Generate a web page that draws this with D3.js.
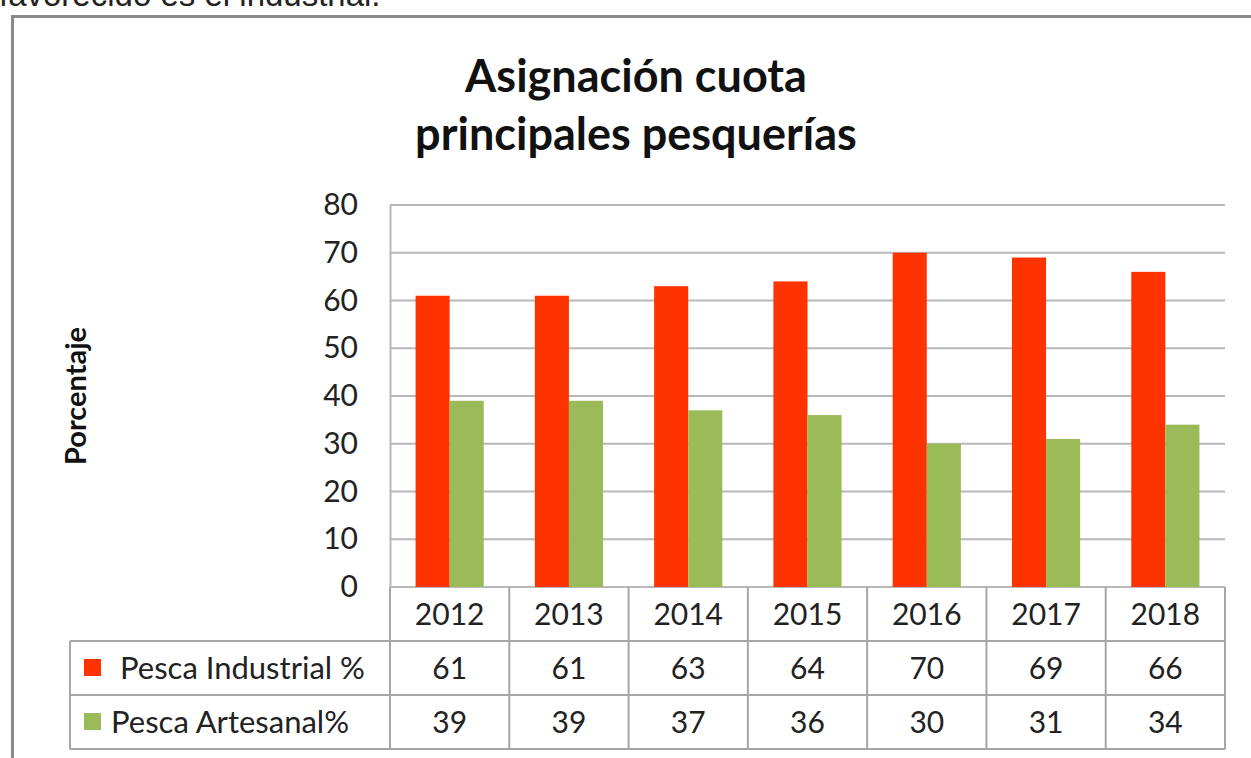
<!DOCTYPE html>
<html>
<head>
<meta charset="utf-8">
<script src="https://cdn.jsdelivr.net/npm/d3@7"></script>
<style>
  body { margin: 0; background: #fff; }
  svg { display: block; }
</style>
</head>
<body>
<div id="chart"></div>
<script>
// data
const years = ["2012", "2013", "2014", "2015", "2016", "2017", "2018"];
const seriesNames = ["Pesca Industrial %", "Pesca Artesanal%"];
const industrial = [61, 61, 63, 64, 70, 69, 66];
const artesanal = [39, 39, 37, 36, 30, 31, 34];
const yTicks = [0, 10, 20, 30, 40, 50, 60, 70, 80];
const colors = ["#ff3300", "#9bbb59"];

const width = 1251;
const height = 758;
const plot = {left: 390, right: 1225, top: 205, bottom: 587};
const rowH = 54;
const font = "Lato, sans-serif";

const svg = d3.select("#chart")
  .append("svg")
  .attr("width", width)
  .attr("height", height);

// clipped sentence from the page above the chart
svg.append("text")
  .attr("x", -1)
  .attr("y", 6)
  .style("font-family", "Liberation Sans, Arial, sans-serif")
  .style("font-size", "33px")
  .attr("fill", "#222")
  .text("favorecido es el industrial.");

// frame of the embedded picture (top and left edges only)
svg.append("path")
  .attr("d", `M12.5,${height} V16.5 H${width}`)
  .attr("fill", "none")
  .attr("stroke", "#8a8a8a")
  .attr("stroke-width", 3);

// title
const title = svg.append("text")
  .attr("text-anchor", "middle")
  .style("font-family", font)
  .style("font-weight", "bold")
  .style("font-size", "45px")
  .attr("fill", "#111");
title.append("tspan").attr("x", 636).attr("y", 92).text("Asignación cuota");
title.append("tspan").attr("x", 636).attr("y", 150).text("principales pesquerías");

// scales
const x0 = d3.scaleBand()
  .domain(years)
  .range([plot.left, plot.right])
  .padding(0);

const x1 = d3.scaleBand()
  .domain(seriesNames)
  .range([0, x0.bandwidth()])
  .paddingInner(0)
  .paddingOuter(0.75);

const y = d3.scaleLinear()
  .domain([0, 80])
  .range([plot.bottom, plot.top]);

// gridlines
svg.append("g")
  .selectAll("line")
  .data(yTicks)
  .join("line")
  .attr("x1", plot.left)
  .attr("x2", plot.right)
  .attr("y1", d => y(d))
  .attr("y2", d => y(d))
  .attr("stroke", "#b8b8b8")
  .attr("stroke-width", 2);

// y axis
const yAxis = svg.append("g")
  .attr("transform", `translate(${plot.left},0)`)
  .call(d3.axisLeft(y).tickValues(yTicks).tickSize(0).tickPadding(32));
yAxis.select(".domain").attr("stroke", "#b8b8b8").attr("stroke-width", 2);
yAxis.selectAll("text")
  .style("font-family", font)
  .style("font-size", "30px")
  .attr("fill", "#222");

// y axis title
svg.append("text")
  .attr("transform", `translate(86,${(plot.top + plot.bottom) / 2}) rotate(-90)`)
  .attr("text-anchor", "middle")
  .style("font-family", font)
  .style("font-weight", "bold")
  .style("font-size", "29px")
  .attr("fill", "#111")
  .text("Porcentaje");

// bars
const series = [industrial, artesanal];
seriesNames.forEach((name, i) => {
  svg.append("g")
    .selectAll("rect")
    .data(years.map((yr, j) => ({year: yr, value: series[i][j]})))
    .join("rect")
    .attr("x", d => x0(d.year) + x1(name))
    .attr("y", d => y(d.value))
    .attr("width", x1.bandwidth())
    .attr("height", d => y(0) - y(d.value))
    .attr("fill", colors[i]);
});

// data table
const table = svg.append("g");
const gridColor = "#a6a6a6";
const tableLeft = 70;
const tableBottom = plot.bottom + rowH * 3;

// horizontal lines
[plot.bottom + rowH, plot.bottom + rowH * 2, tableBottom].forEach(yy => {
  table.append("line")
    .attr("x1", tableLeft).attr("x2", plot.right)
    .attr("y1", yy).attr("y2", yy)
    .attr("stroke", gridColor).attr("stroke-width", 2);
});
// vertical lines between years
years.concat(["end"]).forEach((yr, j) => {
  const xx = j < years.length ? x0(yr) : plot.right;
  table.append("line")
    .attr("x1", xx).attr("x2", xx)
    .attr("y1", plot.bottom).attr("y2", tableBottom)
    .attr("stroke", gridColor).attr("stroke-width", 2);
});
table.append("line")
  .attr("x1", tableLeft).attr("x2", tableLeft)
  .attr("y1", plot.bottom + rowH).attr("y2", tableBottom)
  .attr("stroke", gridColor).attr("stroke-width", 2);

// year header
table.selectAll(".yr")
  .data(years)
  .join("text")
  .attr("class", "yr")
  .attr("x", d => x0(d) + x0.bandwidth() / 2)
  .attr("y", plot.bottom + rowH / 2)
  .attr("dy", "0.35em")
  .attr("text-anchor", "middle")
  .style("font-family", font)
  .style("font-size", "30px")
  .attr("fill", "#222")
  .text(d => d);

// value rows
seriesNames.forEach((name, i) => {
  const cy = plot.bottom + rowH * (i + 1) + rowH / 2;
  table.append("rect")
    .attr("x", 84).attr("y", cy - 9)
    .attr("width", 17).attr("height", 17)
    .attr("fill", colors[i]);
  table.append("text")
    .attr("x", i === 0 ? 120 : 111)
    .attr("y", cy)
    .attr("dy", "0.35em")
    .style("font-family", font)
    .style("font-size", "31px")
    .attr("fill", "#222")
    .text(name);
  table.selectAll(".v" + i)
    .data(series[i])
    .join("text")
    .attr("class", "v" + i)
    .attr("x", (d, j) => x0(years[j]) + x0.bandwidth() / 2)
    .attr("y", cy)
    .attr("dy", "0.35em")
    .attr("text-anchor", "middle")
    .style("font-family", font)
    .style("font-size", "30px")
    .attr("fill", "#222")
    .text(d => d);
});
</script>
</body>
</html>
